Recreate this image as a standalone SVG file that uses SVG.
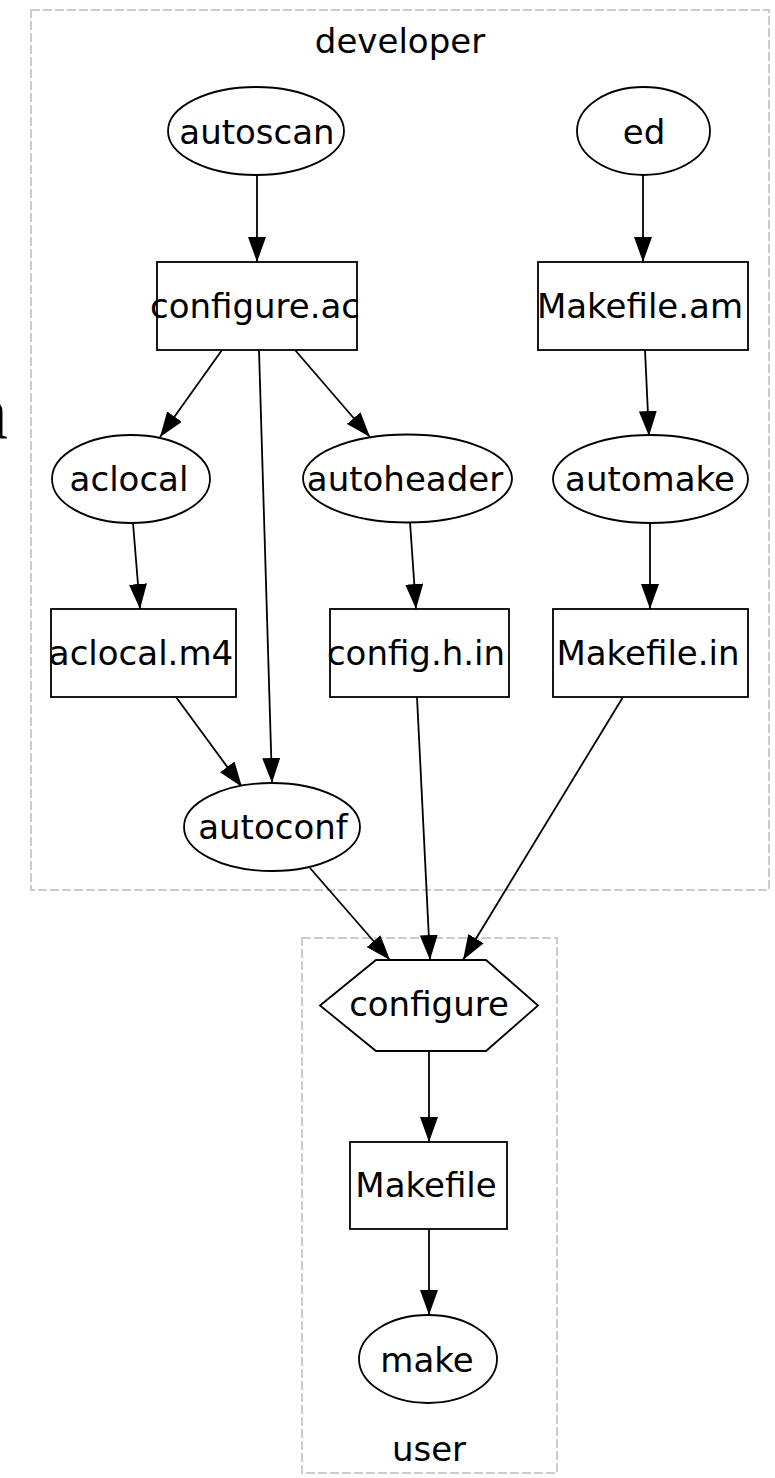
<svg xmlns="http://www.w3.org/2000/svg" width="775" height="1478" viewBox="0 0 775 1478">
<style>
  .cluster { fill: none; stroke: #cccccc; stroke-width: 2; stroke-dasharray: 9,3; }
  .node { fill: #ffffff; stroke: #000000; stroke-width: 1.8; }
  .edge { stroke: #000000; stroke-width: 1.8; fill: none; marker-end: url(#arrow); }
  .lbl { font-family: "DejaVu Sans", sans-serif; font-size: 34px; fill: #000000; text-anchor: middle; }
</style>
<defs>
  <marker id="arrow" viewBox="0 0 25 18" markerWidth="25" markerHeight="18" refX="25" refY="9" orient="auto" markerUnits="userSpaceOnUse">
    <path d="M0,0 L25,9 L0,18 z" fill="#000000"/>
  </marker>
</defs>
<rect width="775" height="1478" fill="#ffffff"/>
<text x="-31" y="439" font-family="Liberation Serif, serif" font-size="78" fill="#000000">n</text>

<g id="cluster_developer">
  <rect class="cluster" x="31" y="10" width="738" height="880"/>
  <text class="lbl" x="400" y="53">developer</text>
</g>
<g id="cluster_user">
  <rect class="cluster" x="302" y="938" width="255" height="535"/>
  <text class="lbl" x="429" y="1461">user</text>
</g>

<g id="edges">
  <line class="edge" x1="257" y1="175" x2="257" y2="262"/>
  <line class="edge" x1="643" y1="175" x2="643" y2="262"/>
  <line class="edge" x1="222" y1="350" x2="160" y2="437"/>
  <line class="edge" x1="259" y1="350" x2="272" y2="783"/>
  <line class="edge" x1="295" y1="350" x2="370" y2="437"/>
  <line class="edge" x1="645" y1="350" x2="649" y2="436"/>
  <line class="edge" x1="133" y1="523" x2="140" y2="609"/>
  <line class="edge" x1="410" y1="522" x2="416" y2="609"/>
  <line class="edge" x1="650" y1="523" x2="650" y2="609"/>
  <line class="edge" x1="176" y1="697" x2="242" y2="787"/>
  <line class="edge" x1="417" y1="697" x2="430" y2="960"/>
  <line class="edge" x1="623" y1="697" x2="463" y2="960"/>
  <line class="edge" x1="310" y1="868" x2="390" y2="960"/>
  <line class="edge" x1="429" y1="1051" x2="429" y2="1142"/>
  <line class="edge" x1="429" y1="1229" x2="429" y2="1315"/>
</g>

<g id="autoscan">
  <ellipse class="node" cx="256" cy="131" rx="88" ry="44"/>
  <text class="lbl" x="257" y="144">autoscan</text>
</g>
<g id="ed">
  <ellipse class="node" cx="643.5" cy="131" rx="66.5" ry="44"/>
  <text class="lbl" x="644" y="144">ed</text>
</g>
<g id="configure_ac">
  <rect class="node" x="157" y="262" width="200" height="88"/>
  <text class="lbl" x="255" y="318">configure.ac</text>
</g>
<g id="Makefile_am">
  <rect class="node" x="538" y="262" width="210" height="88"/>
  <text class="lbl" x="640" y="318">Makefile.am</text>
</g>
<g id="aclocal">
  <ellipse class="node" cx="131" cy="479" rx="79" ry="44"/>
  <text class="lbl" x="129" y="491">aclocal</text>
</g>
<g id="autoheader">
  <ellipse class="node" cx="407.5" cy="478.5" rx="104.5" ry="44"/>
  <text class="lbl" x="405" y="491">autoheader</text>
</g>
<g id="automake">
  <ellipse class="node" cx="650.5" cy="479" rx="97.5" ry="44"/>
  <text class="lbl" x="650" y="491">automake</text>
</g>
<g id="aclocal_m4">
  <rect class="node" x="51" y="609" width="185" height="88"/>
  <text class="lbl" x="141" y="665">aclocal.m4</text>
</g>
<g id="config_h_in">
  <rect class="node" x="330" y="609" width="179" height="88"/>
  <text class="lbl" x="416" y="665">config.h.in</text>
</g>
<g id="Makefile_in">
  <rect class="node" x="553" y="609" width="195" height="88"/>
  <text class="lbl" x="648" y="665">Makefile.in</text>
</g>
<g id="autoconf">
  <ellipse class="node" cx="272" cy="827" rx="88" ry="44"/>
  <text class="lbl" x="273" y="839">autoconf</text>
</g>
<g id="configure">
  <polygon class="node" points="320,1005.5 376,960 486,960 538,1005.5 486,1051 376,1051"/>
  <text class="lbl" x="429" y="1016">configure</text>
</g>
<g id="Makefile">
  <rect class="node" x="350" y="1142" width="157" height="87"/>
  <text class="lbl" x="426" y="1197">Makefile</text>
</g>
<g id="make">
  <ellipse class="node" cx="428" cy="1359" rx="69" ry="44"/>
  <text class="lbl" x="427" y="1372">make</text>
</g>
</svg>
